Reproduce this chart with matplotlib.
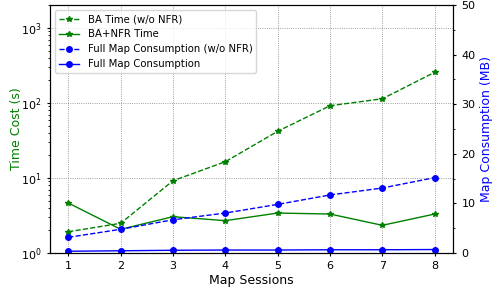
import matplotlib
matplotlib.use("Agg")
import matplotlib.pyplot as plt
from matplotlib.ticker import MultipleLocator

sessions = [1, 2, 3, 4, 5, 6, 7, 8]
ba_time_wo_nfr = [1.92, 2.49, 9.2, 16.5, 42, 92, 114, 257]
ba_nfr_time = [4.64, 2.07, 3.05, 2.7, 3.41, 3.31, 2.34, 3.31]
map_wo_nfr = [3.16, 4.78, 6.7, 8.06, 9.8, 11.7, 13.1, 15.2]
map_full = [0.35, 0.45, 0.55, 0.6, 0.6, 0.65, 0.65, 0.7]

fig = plt.figure(figsize=(5.04, 2.88), dpi=100)
ax = fig.add_axes([50/504, 35/288, 403/504, 248/288])
ax2 = ax.twinx()

l1, = ax.plot(sessions, ba_time_wo_nfr, color="green", linestyle="--", marker="*",
              markersize=4, linewidth=1, label="BA Time (w/o NFR)")
l2, = ax.plot(sessions, ba_nfr_time, color="green", linestyle="-", marker="*",
              markersize=4, linewidth=1, label="BA+NFR Time")
l3, = ax2.plot(sessions, map_wo_nfr, color="blue", linestyle="--", marker="o",
               markersize=4, linewidth=1, label="Full Map Consumption (w/o NFR)")
l4, = ax2.plot(sessions, map_full, color="blue", linestyle="-", marker="o",
               markersize=4, linewidth=1, label="Full Map Consumption")

ax.set_yscale("log")
ax.set_ylim(1, 2030)
ax.set_xlim(0.65, 8.35)
ax.set_xticks(sessions)
ax2.set_ylim(0, 50)
ax2.yaxis.set_major_locator(MultipleLocator(10))
ax2.yaxis.set_minor_locator(MultipleLocator(5))

ax.grid(True, which="major", linestyle=":", color="gray", linewidth=0.6)
ax.set_xlabel("Map Sessions", fontsize=9, labelpad=2)
ax.set_ylabel("Time Cost (s)", color="green", fontsize=9)
ax2.set_ylabel("Map Consumption (MB)", color="blue", fontsize=9)
ax.yaxis.set_label_coords(-0.068, 0.5)
ax2.yaxis.set_label_coords(1.066, 0.5)
for a in (ax, ax2):
    a.tick_params(which="major", labelsize=8, length=2.5)
    a.tick_params(which="minor", length=1.5)

ax.legend(handles=[l1, l2, l3, l4], loc="upper left", fontsize=7.3)

fig.savefig("out.png", dpi=100)
